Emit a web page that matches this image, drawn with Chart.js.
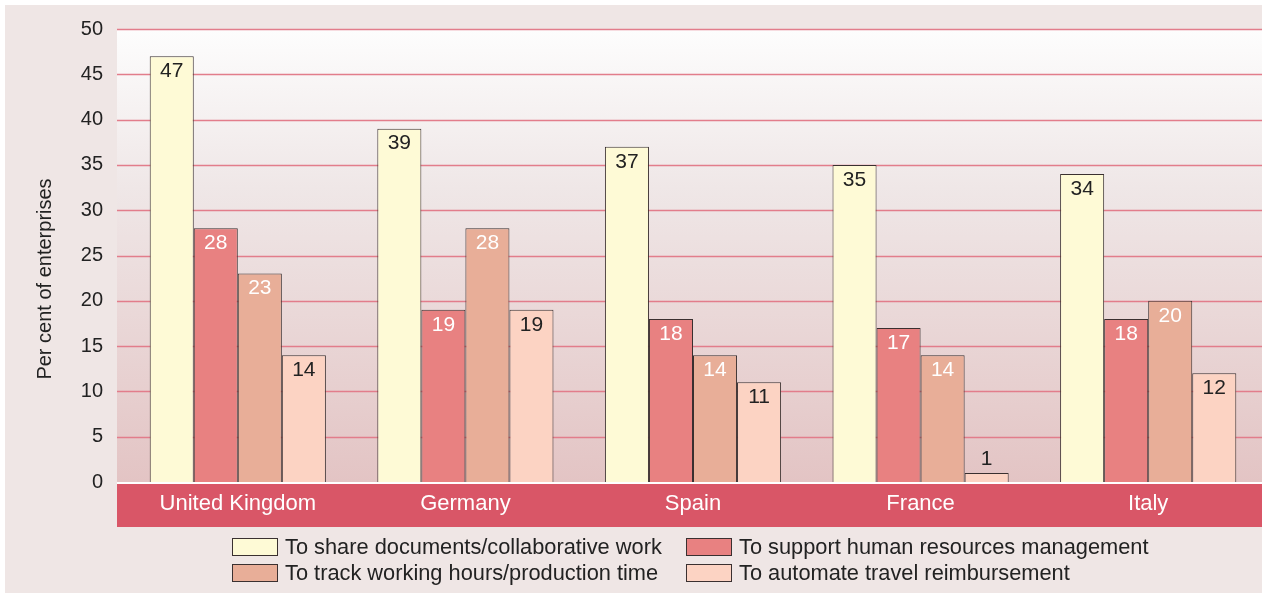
<!DOCTYPE html>
<html>
<head>
<meta charset="utf-8">
<script src="https://cdn.jsdelivr.net/npm/chart.js@4.4.0/dist/chart.umd.min.js"></script>
<style>
  html, body { margin: 0; padding: 0; background: #fff; }
  #wrap { position: relative; width: 1262px; height: 593px; overflow: hidden; }
  #bg { position: absolute; left: 5px; top: 5px; right: 0; bottom: 0; background: #efe6e5; }
  #chart { position: absolute; left: 0; top: 0; }
  #legend {
    position: absolute; left: 232px; top: 534px;
    display: grid; grid-template-columns: 454px auto; row-gap: 0;
    font-family: "Liberation Sans", Arial, sans-serif; font-size: 21.8px; color: #222;
  }
  .item { display: flex; align-items: center; height: 26px; }
  .box { width: 44px; height: 16px; border: 1px solid #3a3030; margin-right: 7px; }
</style>
</head>
<body>
<div id="wrap">
  <div id="bg"></div>
  <canvas id="chart" width="1262" height="593"></canvas>
  <div id="legend"></div>
</div>
<script>
// --- DATA ---
const categories = ['United Kingdom', 'Germany', 'Spain', 'France', 'Italy'];
const shareDocs = [47, 39, 37, 35, 34];
const humanResources = [28, 19, 18, 17, 18];
const trackHours = [23, 28, 14, 14, 20];
const travelReimburse = [14, 19, 11, 1, 12];
const yTicks = [0, 5, 10, 15, 20, 25, 30, 35, 40, 45, 50];

const seriesNames = [
  'To share documents/collaborative work',
  'To support human resources management',
  'To track working hours/production time',
  'To automate travel reimbursement'
];
const seriesColors = ['#fefad6', '#e88181', '#e8ae98', '#fcd3c3'];
const labelColors = ['#222', '#fff', '#fff', '#222'];
const FONT = '"Liberation Sans", Arial, sans-serif';

// background, gridlines and category band
const backdrop = {
  id: 'backdrop',
  beforeDraw(chart) {
    const { ctx, chartArea: a, scales: { y } } = chart;
    const left = 117;
    const g = ctx.createLinearGradient(0, a.top, 0, a.bottom);
    g.addColorStop(0, '#fdfdfd');
    g.addColorStop(0.35, '#efe7e7');
    g.addColorStop(1, '#e3c4c4');
    ctx.save();
    ctx.fillStyle = g;
    ctx.fillRect(left, a.top, a.right - left, a.bottom - a.top);
    // white line + red band
    ctx.fillStyle = '#ffffff';
    ctx.fillRect(left, a.bottom, a.right - left, 2);
    ctx.fillStyle = '#d95667';
    ctx.fillRect(left, a.bottom + 2, a.right - left, 43);
    // gridlines
    ctx.strokeStyle = '#e27d8b';
    ctx.lineWidth = 1.5;
    yTicks.forEach(v => {
      if (v === 0) return;
      const py = Math.round(y.getPixelForValue(v)) + 0.5;
      ctx.beginPath();
      ctx.moveTo(left, py);
      ctx.lineTo(a.right, py);
      ctx.stroke();
    });
    ctx.restore();
  },
  afterDraw(chart) {
    const { ctx } = chart;
    ctx.save();
    ctx.translate(45, 279);
    ctx.rotate(-Math.PI / 2);
    ctx.font = '20px ' + FONT;
    ctx.fillStyle = '#222';
    ctx.textAlign = 'center';
    ctx.textBaseline = 'middle';
    ctx.fillText('Per cent of enterprises', 0, 0);
    ctx.restore();
  }
};

// value labels on bars
const valueLabels = {
  id: 'valueLabels',
  afterDatasetsDraw(chart) {
    const { ctx } = chart;
    ctx.save();
    ctx.font = '21px ' + FONT;
    ctx.textAlign = 'center';
    ctx.textBaseline = 'middle';
    chart.data.datasets.forEach((ds, i) => {
      chart.getDatasetMeta(i).data.forEach((bar, j) => {
        const h = bar.base - bar.y;
        if (h < 26) {
          ctx.fillStyle = '#222';
          ctx.fillText(ds.data[j], bar.x, bar.y - 14);
        } else {
          ctx.fillStyle = labelColors[i];
          ctx.fillText(ds.data[j], bar.x, bar.y + 15);
        }
      });
    });
    ctx.restore();
  }
};

const allSeries = [shareDocs, humanResources, trackHours, travelReimburse];

new Chart(document.getElementById('chart'), {
  type: 'bar',
  data: {
    labels: categories,
    datasets: allSeries.map((d, i) => ({
      label: seriesNames[i],
      data: d,
      backgroundColor: seriesColors[i],
      borderColor: '#3a3030',
      borderWidth: 1,
      barPercentage: 1,
      categoryPercentage: 0.774
    }))
  },
  options: {
    responsive: false,
    animation: false,
    layout: { padding: { top: 29, right: 0, bottom: 66, left: 0 } },
    plugins: { legend: { display: false }, tooltip: { enabled: false } },
    scales: {
      x: {
        grid: { display: false, drawTicks: false },
        border: { display: false },
        ticks: { color: '#fff', font: { family: FONT, size: 22 }, padding: 9 },
        afterFit(scale) { scale.height = 45; }
      },
      y: {
        min: 0, max: 50,
        grid: { display: false, drawTicks: false },
        border: { display: false },
        ticks: { stepSize: 5, color: '#222', font: { family: FONT, size: 20 }, padding: 21 },
        afterFit(scale) {
          scale.width = 124;
          scale.paddingTop = 0;
          scale.paddingBottom = 0;
        }
      }
    }
  },
  plugins: [backdrop, valueLabels]
});

// legend
const legendEl = document.getElementById('legend');
[0, 1, 2, 3].forEach(i => {
  const item = document.createElement('div');
  item.className = 'item';
  item.innerHTML = `<span class="box" style="background:${seriesColors[i]}"></span><span>${seriesNames[i]}</span>`;
  legendEl.appendChild(item);
});
</script>
</body>
</html>
